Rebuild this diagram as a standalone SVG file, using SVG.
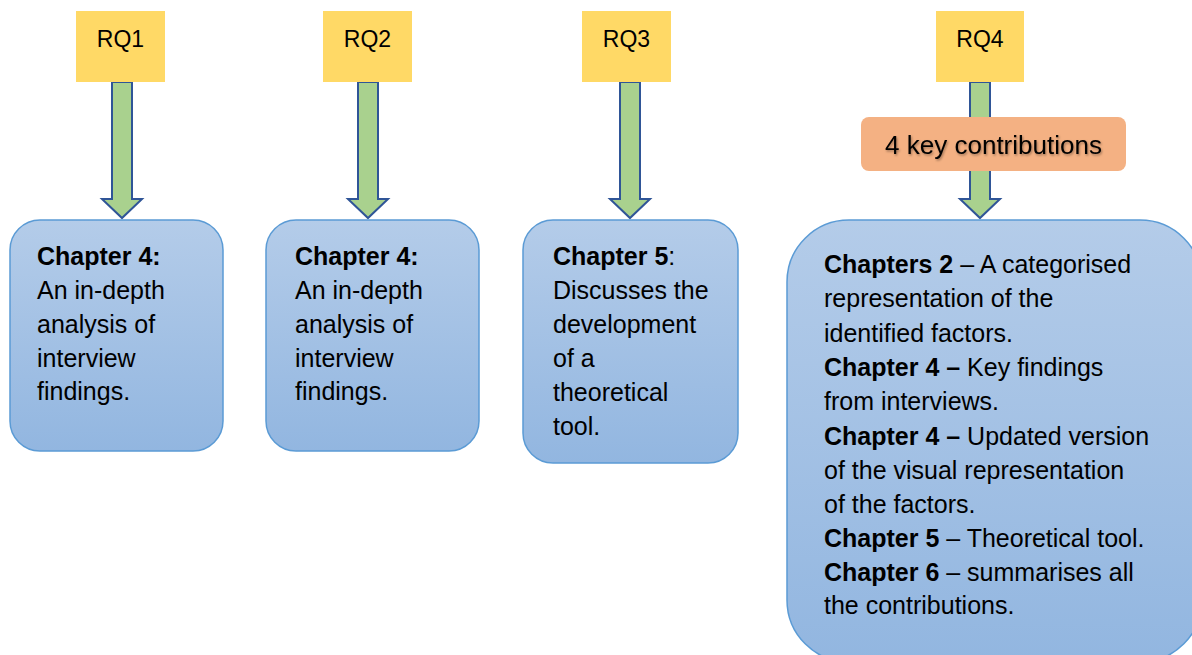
<svg xmlns="http://www.w3.org/2000/svg" width="1192" height="655" viewBox="0 0 1192 655">
  <defs>
    <linearGradient id="boxFill" x1="0" y1="0" x2="0" y2="1">
      <stop offset="0" stop-color="#b4cce9"/>
      <stop offset="1" stop-color="#92b6e0"/>
    </linearGradient>
    <filter id="textShadow" x="-10%" y="-30%" width="120%" height="160%">
      <feDropShadow dx="1" dy="1.5" stdDeviation="1" flood-color="#000" flood-opacity="0.35"/>
    </filter>
  </defs>
  <style>
    .rq { fill: #ffd966; }
    .rq-label { font-family: "Liberation Sans", Arial, sans-serif; font-size: 23px; fill: #000; text-anchor: middle; }
    .chapter { fill: url(#boxFill); stroke: #5b9bd5; stroke-width: 1.5; }
    .body { font-family: "Liberation Sans", Arial, sans-serif; font-size: 25px; fill: #000; }
    .b { font-weight: bold; }
    .arrow { fill: #a9d18e; stroke: #2f5597; stroke-width: 2; stroke-linejoin: miter; }
    .key { fill: #f4b183; }
    .key-label { font-family: "Liberation Sans", Arial, sans-serif; font-size: 26px; fill: #000; text-anchor: middle; filter: url(#textShadow); }
  </style>

  <!-- block arrows from each research question down to its chapter box -->
  <g id="connectors">
    <polygon class="arrow" points="112,82 132,82 132,199 142,199 122,218 102,199 112,199"/>
    <polygon class="arrow" points="358,82 378,82 378,199 388,199 368,218 348,199 358,199"/>
    <polygon class="arrow" points="620,82 640,82 640,199 650,199 630,218 610,199 620,199"/>
    <polygon class="arrow" points="970,82 990,82 990,199 1000,199 980,218 960,199 970,199"/>
  </g>

  <!-- research questions -->
  <g id="rq1">
    <rect class="rq" x="76" y="11" width="89" height="71"/>
    <text class="rq-label" x="120.5" y="47">RQ1</text>
  </g>
  <g id="rq2">
    <rect class="rq" x="323" y="11" width="89" height="71"/>
    <text class="rq-label" x="367.5" y="47">RQ2</text>
  </g>
  <g id="rq3">
    <rect class="rq" x="582" y="11" width="89" height="71"/>
    <text class="rq-label" x="626.5" y="47">RQ3</text>
  </g>
  <g id="rq4">
    <rect class="rq" x="936" y="11" width="88" height="71"/>
    <text class="rq-label" x="980" y="47">RQ4</text>
  </g>

  <!-- label laid over the RQ4 arrow -->
  <g id="key-contributions">
    <rect class="key" x="861" y="117" width="265" height="54" rx="8"/>
    <text class="key-label" x="993.5" y="154">4 key contributions</text>
  </g>

  <!-- chapter boxes -->
  <g id="chapter-rq1">
    <rect class="chapter" x="10" y="220" width="213" height="231" rx="30"/>
    <text class="body" x="37">
      <tspan x="37" y="265" class="b">Chapter 4:</tspan>
      <tspan x="37" y="299">An in-depth</tspan>
      <tspan x="37" y="333">analysis of</tspan>
      <tspan x="37" y="367">interview</tspan>
      <tspan x="37" y="400">findings.</tspan>
    </text>
  </g>

  <g id="chapter-rq2">
    <rect class="chapter" x="266" y="220" width="213" height="231" rx="30"/>
    <text class="body" x="295">
      <tspan x="295" y="265" class="b">Chapter 4:</tspan>
      <tspan x="295" y="299">An in-depth</tspan>
      <tspan x="295" y="333">analysis of</tspan>
      <tspan x="295" y="367">interview</tspan>
      <tspan x="295" y="400">findings.</tspan>
    </text>
  </g>

  <g id="chapter-rq3">
    <rect class="chapter" x="523" y="220" width="215" height="243" rx="30"/>
    <text class="body" x="553">
      <tspan x="553" y="265"><tspan class="b">Chapter 5</tspan>:</tspan>
      <tspan x="553" y="299">Discusses the</tspan>
      <tspan x="553" y="333">development</tspan>
      <tspan x="553" y="367">of a</tspan>
      <tspan x="553" y="401">theoretical</tspan>
      <tspan x="553" y="435">tool.</tspan>
    </text>
  </g>

  <g id="chapter-rq4">
    <rect class="chapter" x="787" y="220" width="415" height="442" rx="62"/>
    <text class="body" x="824">
      <tspan x="824" y="273"><tspan class="b">Chapters 2</tspan> – A categorised</tspan>
      <tspan x="824" y="307">representation of the</tspan>
      <tspan x="824" y="342">identified factors.</tspan>
      <tspan x="824" y="376"><tspan class="b">Chapter 4 –</tspan> Key findings</tspan>
      <tspan x="824" y="410">from interviews.</tspan>
      <tspan x="824" y="445"><tspan class="b">Chapter 4 –</tspan> Updated version</tspan>
      <tspan x="824" y="479">of the visual representation</tspan>
      <tspan x="824" y="513">of the factors.</tspan>
      <tspan x="824" y="547"><tspan class="b">Chapter 5</tspan> – Theoretical tool.</tspan>
      <tspan x="824" y="581"><tspan class="b">Chapter 6</tspan> – summarises all</tspan>
      <tspan x="824" y="614">the contributions.</tspan>
    </text>
  </g>
</svg>
